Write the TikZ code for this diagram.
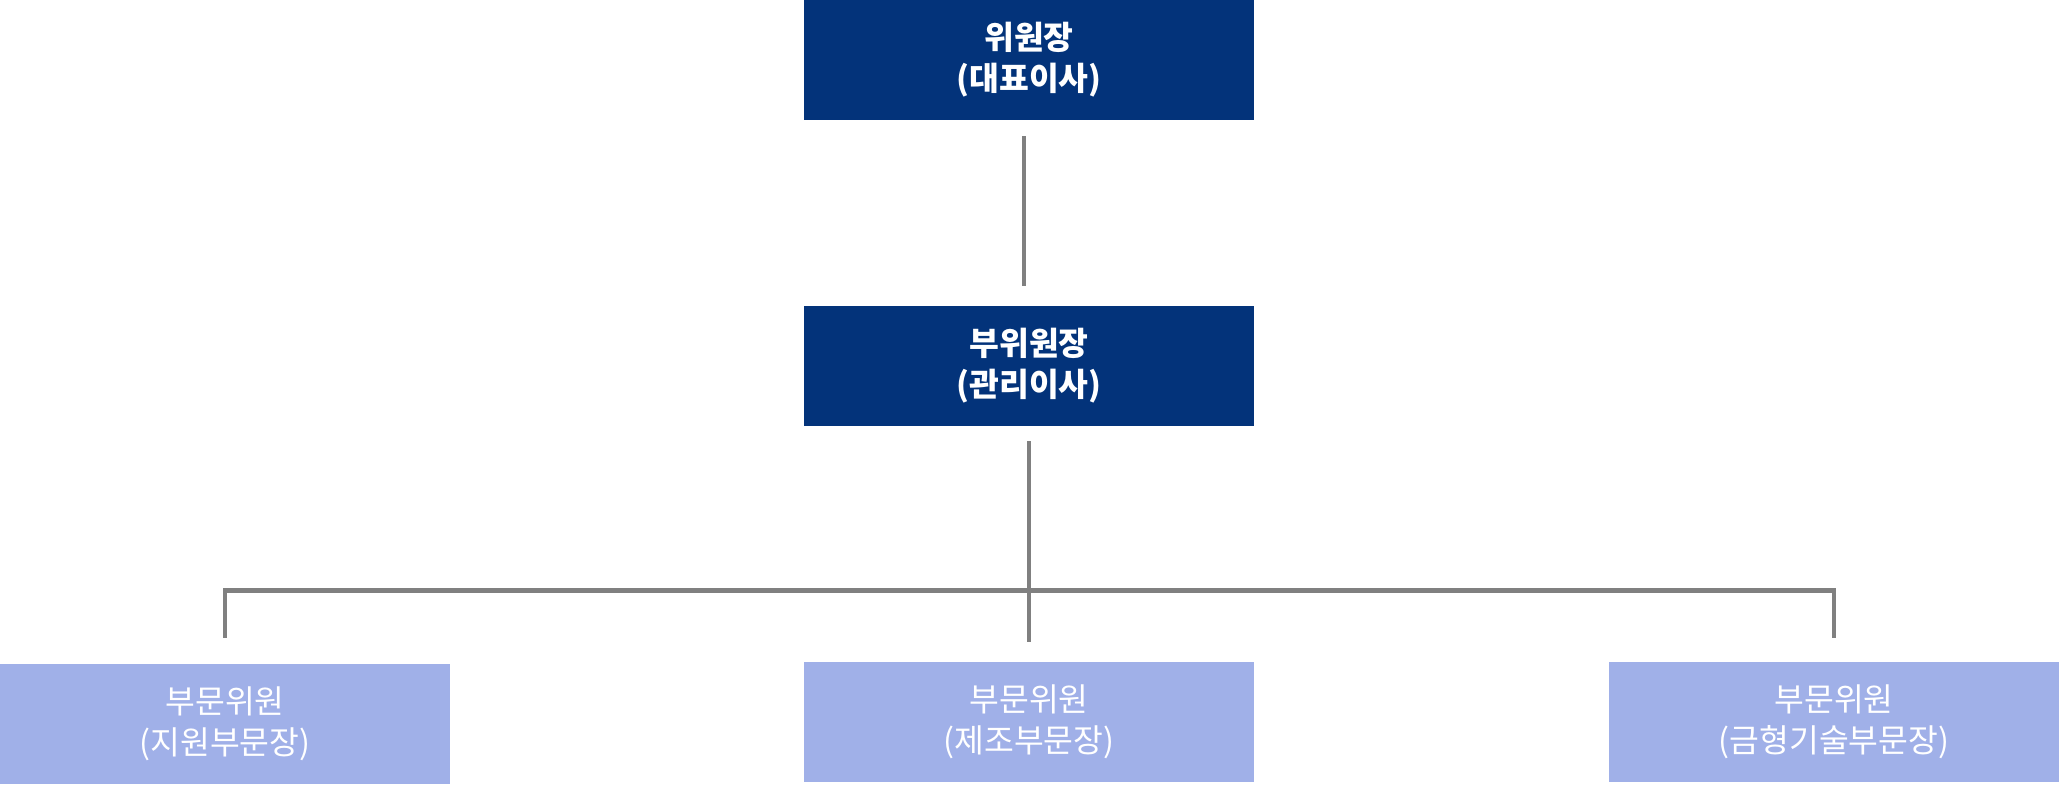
\documentclass[tikz,border=0pt]{standalone}
\usepackage{fontspec}
\setmainfont{Noto Sans CJK KR}
\usetikzlibrary{positioning, calc}
\definecolor{headfill}{RGB}{3,51,122}
\definecolor{divfill}{RGB}{160,176,232}
\definecolor{linkgray}{RGB}{128,128,128}
\tikzset{
    block/.style={
        rectangle, draw=none, inner sep=0pt, text=white, align=center,
        minimum width=225pt, minimum height=60pt
    },
    headblock/.style={
        block, fill=headfill, font=\fontsize{16.2pt}{20.5pt}\selectfont\bfseries
    },
    divblock/.style={
        block, fill=divfill, font=\fontsize{16.2pt}{20.5pt}\selectfont
    },
    connection/.style={draw=linkgray, line width=2.4pt}
}
\begin{document}
\begin{tikzpicture}[x=0.5pt, y=-0.5pt]
\useasboundingbox (0,0) rectangle (2059,784);

% Head of committee
\node[headblock] (chair) at (1029,60) {위원장\\(대표이사)};
\node[headblock] (vicechair) at (1029,366) {부위원장\\(관리이사)};

% Divisions
\node[divblock] (divsupport) at (225,724) {부문위원\\(지원부문장)};
\node[divblock] (divmfg) at (1029,722) {부문위원\\(제조부문장)};
\node[divblock] (divmold) at (1834,722) {부문위원\\(금형기술부문장)};

% Connections
\coordinate (bus) at (1029,590.5);
\draw[connection, shorten <=8pt, shorten >=10pt] ([xshift=-2.5pt]chair.south) -- ([xshift=-2.5pt]vicechair.north);
\draw[connection, shorten <=7.5pt, shorten >=10pt] (vicechair.south) -- (divmfg.north);
\draw[connection, shorten <=13pt, shorten >=12pt] (divsupport.north) |- (bus) -| (divmold.north);

\end{tikzpicture}
\end{document}
